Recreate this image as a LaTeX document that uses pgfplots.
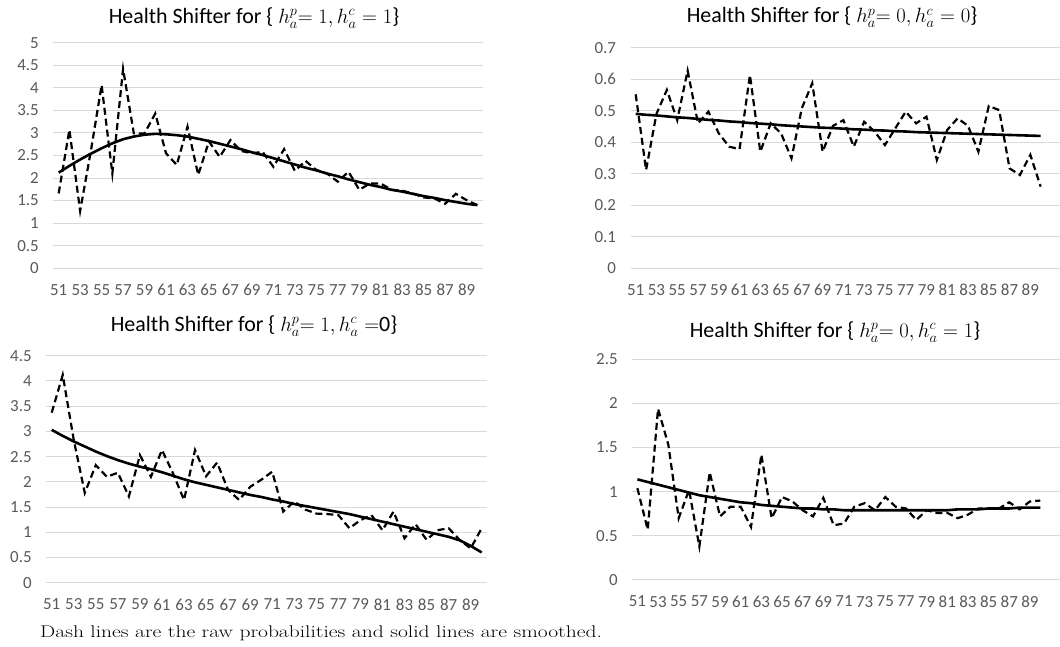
\documentclass[border=0pt]{standalone}
\usepackage{fontspec}
\usepackage{pgfplots}
\usepackage{pgfplotstable}
\usepackage{graphicx}
\pgfplotsset{compat=1.18}
\newfontfamily\calibri{Carlito}
\definecolor{gridc}{HTML}{D9D9D9}
\definecolor{tickc}{HTML}{595959}

\pgfplotstableread{
x raw smooth
51 1.66 2.12
52 3.07 2.27
53 1.27 2.41
54 2.60 2.54
55 4.06 2.66
56 2.10 2.77
57 4.42 2.86
58 2.99 2.92
59 2.99 2.96
60 3.43 2.98
61 2.55 2.97
62 2.29 2.95
63 3.14 2.92
64 2.07 2.87
65 2.81 2.82
66 2.47 2.76
67 2.84 2.70
68 2.60 2.64
69 2.55 2.57
70 2.58 2.51
71 2.25 2.44
72 2.64 2.37
73 2.16 2.30
74 2.38 2.23
75 2.18 2.17
76 2.10 2.10
77 1.92 2.04
78 2.14 1.97
79 1.74 1.91
80 1.88 1.85
81 1.88 1.80
82 1.74 1.74
83 1.72 1.70
84 1.66 1.65
85 1.57 1.60
86 1.55 1.56
87 1.43 1.51
88 1.65 1.47
89 1.51 1.43
90 1.40 1.40
}\tabA

\pgfplotstableread{
x raw smooth
51 0.552 0.490
52 0.312 0.487
53 0.490 0.485
54 0.566 0.482
55 0.470 0.479
56 0.627 0.477
57 0.460 0.474
58 0.497 0.471
59 0.428 0.469
60 0.386 0.466
61 0.378 0.464
62 0.613 0.461
63 0.370 0.459
64 0.460 0.457
65 0.428 0.454
66 0.349 0.452
67 0.508 0.450
68 0.587 0.448
69 0.370 0.446
70 0.452 0.445
71 0.470 0.443
72 0.386 0.441
73 0.465 0.440
74 0.434 0.438
75 0.391 0.437
76 0.444 0.435
77 0.497 0.434
78 0.460 0.432
79 0.481 0.431
80 0.344 0.430
81 0.439 0.429
82 0.476 0.428
83 0.452 0.427
84 0.370 0.426
85 0.515 0.425
86 0.502 0.424
87 0.317 0.423
88 0.296 0.422
89 0.360 0.421
90 0.259 0.420
}\tabB

\pgfplotstableread{
x raw smooth
51 3.37 3.03
52 4.12 2.91
53 2.83 2.80
54 1.78 2.70
55 2.33 2.60
56 2.10 2.51
57 2.18 2.43
58 1.71 2.36
59 2.53 2.30
60 2.10 2.25
61 2.63 2.19
62 2.17 2.12
63 1.64 2.05
64 2.63 1.99
65 2.11 1.94
66 2.38 1.89
67 1.84 1.84
68 1.64 1.79
69 1.90 1.74
70 2.04 1.70
71 2.20 1.65
72 1.41 1.61
73 1.61 1.56
74 1.45 1.52
75 1.37 1.48
76 1.36 1.44
77 1.34 1.40
78 1.08 1.36
79 1.24 1.31
80 1.34 1.26
81 1.04 1.21
82 1.41 1.16
83 0.88 1.11
84 1.16 1.06
85 0.85 1.01
86 1.04 0.96
87 1.08 0.91
88 0.85 0.84
89 0.68 0.73
90 1.08 0.60
}\tabC

\pgfplotstableread{
x raw smooth
51 1.04 1.14
52 0.57 1.11
53 1.94 1.08
54 1.53 1.05
55 0.70 1.02
56 1.02 0.99
57 0.38 0.96
58 1.22 0.94
59 0.72 0.92
60 0.83 0.90
61 0.83 0.88
62 0.60 0.87
63 1.42 0.85
64 0.70 0.84
65 0.94 0.83
66 0.89 0.82
67 0.79 0.81
68 0.72 0.81
69 0.93 0.80
70 0.62 0.80
71 0.64 0.79
72 0.83 0.79
73 0.87 0.79
74 0.79 0.79
75 0.94 0.79
76 0.83 0.79
77 0.81 0.79
78 0.68 0.79
79 0.79 0.79
80 0.76 0.79
81 0.76 0.79
82 0.70 0.80
83 0.74 0.80
84 0.81 0.80
85 0.81 0.81
86 0.81 0.81
87 0.88 0.81
88 0.80 0.82
89 0.89 0.82
90 0.90 0.82
}\tabD

\pgfplotsset{
  panel/.style={
    scale only axis,
    anchor=south west,
    axis line style={draw=none},
    major tick length=0pt,
    ymajorgrids,
    major grid style={draw=gridc, line width=1bp},
    xtick={51,53,...,89},
    xmin=50.5,
    ymin=0,
    clip=false,
    /pgf/number format/assume math mode=true,
    ticklabel style={font=\calibri\fontsize{17}{19}\selectfont, text=tickc},
    yticklabel style={xshift=-11bp},
    xticklabel style={yshift=-12.5bp},
  },
  rawline/.style={black, line width=2.2bp, dash pattern=on 7bp off 4bp},
  smoothline/.style={black, line width=2.6bp},
}

\newcommand{\ttl}[1]{\calibri\fontsize{22}{26}\selectfont #1}
\newcommand{\mth}[1]{{\fontsize{22}{26}\selectfont #1}}

\begin{document}
\begin{tikzpicture}[x=1bp,y=1bp]
\path[use as bounding box] (0,0) rectangle (1060,647);

\begin{axis}[panel, at={(53.3bp,378.7bp)}, width=429.4bp, height=225.6bp,
  xmax=90.5, ymax=5, ytick={0,0.5,...,5}]
\addplot[rawline] table[x=x,y=raw] {\tabA};
\addplot[smoothline] table[x=x,y=smooth] {\tabA};
\end{axis}

\begin{axis}[panel, at={(630.5bp,378.7bp)}, width=429.5bp, height=220.6bp,
  xmax=91.86, ymax=0.7, ytick={0,0.1,0.2,0.3,0.4,0.5,0.6,0.7}]
\addplot[rawline] table[x=x,y=raw] {\tabB};
\addplot[smoothline] table[x=x,y=smooth] {\tabB};
\end{axis}

\begin{axis}[panel, at={(46.2bp,64.3bp)}, width=441bp, height=227bp,
  xmax=90.5, ymax=4.5, ytick={0,0.5,...,4.5}]
\addplot[rawline] table[x=x,y=raw] {\tabC};
\addplot[smoothline] table[x=x,y=smooth] {\tabC};
\end{axis}

\begin{axis}[panel, at={(632.2bp,67bp)}, width=427.8bp, height=220.7bp,
  xmax=91.91, ymax=2.5, ytick={0,0.5,...,2.5}]
\addplot[rawline] table[x=x,y=raw] {\tabD};
\addplot[smoothline] table[x=x,y=smooth] {\tabD};
\end{axis}

\node at (254,629) {\ttl{Health Shifter for \{ \mth{$h_a^p{=}\;1, h_a^c = 1$}\}}};
\node at (832,629.5) {\ttl{Health Shifter for \{ \mth{$h_a^p{=}\;0, h_a^c = 0$}\}}};
\node at (254,321) {\ttl{Health Shifter for \{ \mth{$h_a^p{=}\;1, h_a^c\;{=}$}0\}}};
\node at (835,315) {\ttl{Health Shifter for \{ \mth{$h_a^p{=}\;0, h_a^c = 1$}\}}};

\node[anchor=west, inner sep=0pt] at (40,14) {\scalebox{1.27}[1]{\fontsize{17}{19}\selectfont Dash lines are the raw probabilities and solid lines are smoothed.}};
\end{tikzpicture}
\end{document}
